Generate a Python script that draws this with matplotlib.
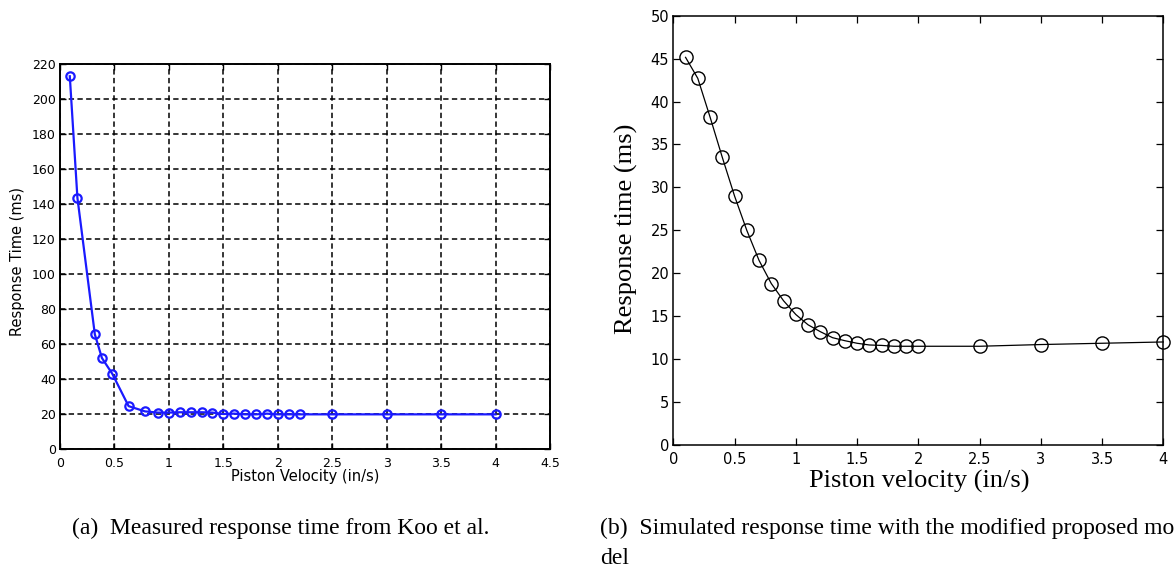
import matplotlib.pyplot as plt
from matplotlib.ticker import FuncFormatter

# (a) measured response time (Koo et al.)
meas_velocity = [0.09, 0.16, 0.32, 0.385, 0.48, 0.63, 0.78, 0.9, 1.0, 1.1, 1.2, 1.3,
                 1.4, 1.5, 1.6, 1.7, 1.8, 1.9, 2.0, 2.1, 2.2, 2.5, 3.0, 3.5, 4.0]
meas_time = [213, 143.5, 65.5, 52, 43, 24.5, 21.5, 20.8, 20.8, 21, 21, 21,
             20.8, 20, 20.2, 19.8, 19.8, 20.2, 19.8, 19.8, 19.8, 19.8, 19.8, 19.8, 19.8]

# (b) simulated response time
sim_velocity = [0.1, 0.2, 0.3, 0.4, 0.5, 0.6, 0.7, 0.8, 0.9, 1.0, 1.1, 1.2, 1.3, 1.4,
                1.5, 1.6, 1.7, 1.8, 1.9, 2.0, 2.5, 3.0, 3.5, 4.0]
sim_time = [45.15, 42.7, 38.2, 33.5, 29.0, 25.0, 21.5, 18.8, 16.8, 15.2, 14.0, 13.2,
            12.5, 12.15, 11.85, 11.65, 11.6, 11.5, 11.5, 11.5, 11.5, 11.7, 11.85, 12.0]

left_xticks = [0, 0.5, 1, 1.5, 2, 2.5, 3, 3.5, 4, 4.5]
left_yticks = [0, 20, 40, 60, 80, 100, 120, 140, 160, 180, 200, 220]
right_xticks = [0, 0.5, 1, 1.5, 2, 2.5, 3, 3.5, 4]
right_yticks = [0, 5, 10, 15, 20, 25, 30, 35, 40, 45, 50]

fmt = FuncFormatter(lambda v, p: '%g' % v)

fig = plt.figure(figsize=(11.75, 5.7), dpi=100)
W, H = 1175.0, 570.0

# ---- left panel
ax1 = fig.add_axes([60 / W, 1 - 449 / H, 490 / W, 385 / H])
ax1.plot(meas_velocity, meas_time, color='#1a1aff', lw=1.6, marker='o', ms=6,
         mfc='none', mec='#1a1aff', mew=1.6, clip_on=False, zorder=3)
ax1.set_xlim(0, 4.5)
ax1.set_ylim(0, 220)
ax1.set_xticks(left_xticks)
ax1.set_yticks(left_yticks)
ax1.xaxis.set_major_formatter(fmt)
ax1.grid(True, color='black', linestyle=(0, (3.5, 2.2)), lw=1.1)
ax1.tick_params(direction='in', length=4, width=1, top=True, right=True,
                labelsize=9, colors='black')
ax1.tick_params(axis='x', pad=6)
ax1.tick_params(axis='y', pad=3)
for s in ax1.spines.values():
    s.set_linewidth(1.4)
fig.text(18 / W, 1 - 262 / H, 'Response Time (ms)', rotation=90, ha='center',
         va='center', fontsize=10.5, family='DejaVu Sans')
fig.text(305 / W, 1 - 476 / H, 'Piston Velocity (in/s)', ha='center', va='center',
         fontsize=10.5, family='DejaVu Sans')

# ---- right panel
ax2 = fig.add_axes([673.3 / W, 1 - 445 / H, 490 / W, 429.3 / H])
ax2.plot(sim_velocity, sim_time, color='black', lw=0.9, marker='o', ms=9.5,
         mfc='none', mec='black', mew=1.0, clip_on=False, zorder=3)
ax2.set_xlim(0, 4)
ax2.set_ylim(0, 50)
ax2.set_xticks(right_xticks)
ax2.set_yticks(right_yticks)
ax2.xaxis.set_major_formatter(fmt)
ax2.tick_params(direction='in', length=5, width=0.9, top=True, right=True,
                labelsize=10.5, colors='black')
ax2.tick_params(axis='x', pad=5)
ax2.tick_params(axis='y', pad=3)
for s in ax2.spines.values():
    s.set_linewidth(1.1)
fig.text(626 / W, 1 - 229 / H, 'Response time (ms)', rotation=90, ha='center',
         va='center', fontsize=19, family='Liberation Serif')
fig.text(919 / W, 1 - 488 / H, 'Piston velocity (in/s)', ha='center', va='baseline',
         fontsize=19, family='Liberation Serif')

# ---- captions
fig.text(72 / W, 1 - 534 / H, '(a)  Measured response time from Koo et al.',
         ha='left', va='baseline', fontsize=17, family='Liberation Serif')
fig.text(600 / W, 1 - 534 / H, '(b)  Simulated response time with the modified proposed mo',
         ha='left', va='baseline', fontsize=17, family='Liberation Serif')
fig.text(600 / W, 1 - 564 / H, 'del',
         ha='left', va='baseline', fontsize=17, family='Liberation Serif')

fig.savefig('out.png', dpi=100)
